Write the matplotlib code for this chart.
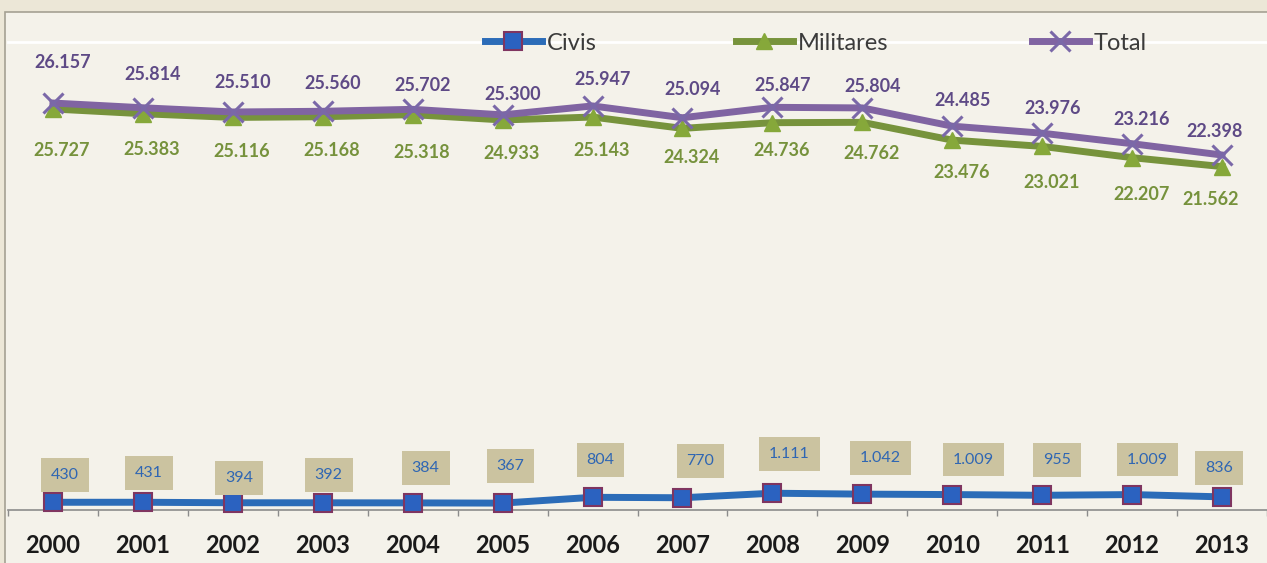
import matplotlib.pyplot as plt
import numpy as np
from matplotlib.lines import Line2D
from matplotlib.patches import Rectangle

plt.rcParams['font.family'] = ['Lato', 'DejaVu Sans']

years = [str(y) for y in range(2000, 2014)]
civis = [430, 431, 394, 392, 384, 367, 804, 770, 1111, 1042, 1009, 955, 1009, 836]
militares = [25727, 25383, 25116, 25168, 25318, 24933, 25143, 24324, 24736, 24762,
             23476, 23021, 22207, 21562]
total = [26157, 25814, 25510, 25560, 25702, 25300, 25947, 25094, 25847, 25804,
         24485, 23976, 23216, 22398]

# hand nudges for the data labels (pixels)
total_dx = [10] * 13 + [-7]
total_dy = [41, 33, 29, 28, 24, 20, 26, 28, 22, 21, 26, 25, 24, 24]
mil_dx = [9] * 13 + [-11]
mil_dy = [-42, -36, -34, -34, -38, -34, -33, -29, -28, -31, -32, -36, -37, -33]
civ_dx = [12, 6, 6, 6, 13, 8, 8, 18, 17, 18, 21, 15, 15, -3]
civ_dy = [27, 29, 25, 28, 35, 37, 37, 37, 39, 36, 35, 35, 35, 29]

c_civ = '#2B6CB8'
c_mil = '#77933C'
c_tot = '#8064A2'


def fmt(v):
    return f"{v:,}".replace(",", ".")


W, H = 1267, 563
fig = plt.figure(figsize=(W / 100, H / 100), dpi=100, facecolor='#ECE7D7')
fig.patches.append(Rectangle((5 / W, -0.05), 1.1, (H - 12) / H + 0.05,
                             transform=fig.transFigure, facecolor='#F4F2EA',
                             edgecolor='#A5A193', lw=1.2, zorder=-5))

ax = fig.add_axes([8 / W, 53 / H, (W - 8) / W, 468 / H])
ax.set_facecolor('none')
ax2 = ax.twinx()

x = np.arange(len(years))
ax.set_xlim(-0.5, -0.5 + (W - 8) / 90.3)
ax.set_ylim(-150, 35000)
ax2.set_ylim(-3270, 30570)

for a in (ax, ax2):
    a.set_yticks([])
    for s in a.spines.values():
        s.set_visible(False)
ax.spines['top'].set_visible(True)
ax.spines['top'].set_color('white')
ax.spines['top'].set_linewidth(2)
ax.spines['bottom'].set_visible(True)
ax.spines['bottom'].set_color('#8C8C8C')
ax.spines['bottom'].set_linewidth(1.2)

ax.set_xticks(x)
ax.set_xticklabels(years, fontsize=17, fontweight='bold', color='#1A1A1A')
ax.tick_params(axis='x', which='major', length=0, pad=17)
ax.set_xticks(np.arange(-0.5, 14, 1), minor=True)
ax.tick_params(axis='x', which='minor', length=4.5, width=1, color='#8C8C8C', direction='out')

ax.plot(x, civis, color=c_civ, lw=5, marker='s', ms=13, mfc='#2B62C0',
        mec='#7F3560', mew=1.5, zorder=3, clip_on=False)
ax2.plot(x, militares, color=c_mil, lw=5, marker='^', ms=12, mfc='#86A83A',
         mec='#86A83A', zorder=3)
ax2.plot(x, total, color=c_tot, lw=5, marker='x', ms=14, mew=2.2,
         mec='#7A68A8', zorder=4)

for i in range(len(years)):
    ax2.annotate(fmt(total[i]), (i, total[i]), xytext=(total_dx[i], total_dy[i]),
                 textcoords='offset pixels', ha='center', va='center',
                 fontsize=13, fontweight='bold', color='#5E4A86')
    ax2.annotate(fmt(militares[i]), (i, militares[i]), xytext=(mil_dx[i], mil_dy[i]),
                 textcoords='offset pixels', ha='center', va='center',
                 fontsize=13, fontweight='bold', color='#76923C')
    ax.annotate(fmt(civis[i]), (i, civis[i]), xytext=(civ_dx[i], civ_dy[i]),
                textcoords='offset pixels', ha='center', va='center',
                fontsize=11.5, color='#2F66B3',
                bbox=dict(boxstyle='square,pad=0.62', fc='#CBC3A0', ec='none'))

# legend entries laid out one by one along the top
handles = [
    Line2D([], [], color=c_civ, lw=5, marker='s', ms=13, mfc='#2B62C0',
           mec='#7F3560', mew=1.5),
    Line2D([], [], color=c_mil, lw=5, marker='^', ms=12, mfc='#86A83A', mec='#86A83A'),
    Line2D([], [], color=c_tot, lw=5, marker='x', ms=14, mew=2.2, mec='#7A68A8'),
]
names = ['Civis', 'Militares', 'Total']
for h, name, x0 in zip(handles, names, [485, 736, 1032]):
    leg = fig.legend([h], [name], loc='center left', bbox_to_anchor=(x0 / W, 1 - 43 / H),
                     frameon=False, fontsize=17, handlelength=2.4, handletextpad=0.2,
                     borderpad=0, borderaxespad=0, numpoints=1)
    for t in leg.get_texts():
        t.set_color('#3B3B3B')

fig.savefig('out.png', dpi=100, facecolor=fig.get_facecolor())
